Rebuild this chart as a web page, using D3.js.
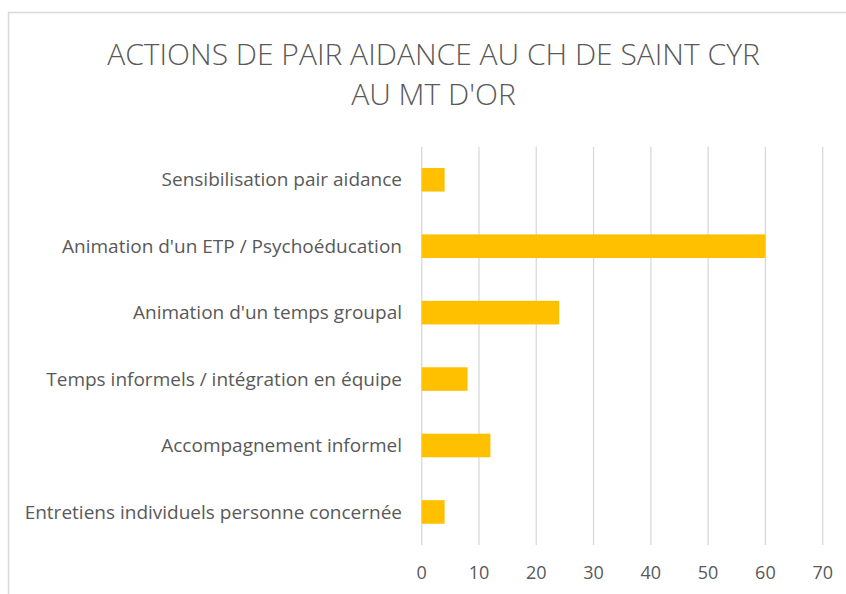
<!DOCTYPE html>
<html>
<head>
<meta charset="utf-8">
<script src="https://d3js.org/d3.v7.min.js"></script>
<style>
  body { margin: 0; background: #fff; }
  text { font-family: "Open Sans", Lato, sans-serif; fill: #595959; }
</style>
</head>
<body>
<div id="chart-area"></div>
<script>
// data
var categories = [
  "Sensibilisation pair aidance",
  "Animation d'un ETP / Psychoéducation",
  "Animation d'un temps groupal ",
  "Temps informels / intégration en équipe",
  "Accompagnement informel",
  "Entretiens individuels personne concernée"
];
var values = [4, 60, 24, 8, 12, 4];
var xTicks = [0, 10, 20, 30, 40, 50, 60, 70];
var titleLines = ["ACTIONS DE PAIR AIDANCE AU CH DE SAINT CYR", "AU MT D'OR"];

var data = categories.map(function(c, i) {
  return { name: c, value: values[i] };
});

var svg = d3.select("#chart-area").append("svg")
  .attr("width", 846)
  .attr("height", 594);

// chart frame (cropped on the right and bottom)
svg.append("rect")
  .attr("x", 8.5)
  .attr("y", 12.5)
  .attr("width", 900)
  .attr("height", 700)
  .attr("fill", "#fff")
  .attr("stroke", "#d9d9d9")
  .attr("stroke-width", 1.5);

// title
svg.selectAll(".title").data(titleLines).enter()
  .append("text")
    .attr("class", "title")
    .attr("x", 433.5)
    .attr("y", function(d, i) { return 65 + i * 40; })
    .attr("text-anchor", "middle")
    .style("font-size", "30px")
    .style("font-weight", 300)
    .text(function(d) { return d; });

var x = d3.scaleLinear()
  .domain([0, 70])
  .range([421.7, 822.7]);

var y = d3.scaleBand()
  .domain(categories)
  .range([146.7, 545])
  .paddingInner(0.645)
  .paddingOuter(0.32);

// gridlines
svg.selectAll(".grid").data(xTicks).enter()
  .append("line")
    .attr("x1", function(d) { return x(d); })
    .attr("x2", function(d) { return x(d); })
    .attr("y1", 146.7)
    .attr("y2", 545)
    .attr("stroke", "#d9d9d9")
    .attr("stroke-width", 1.3);

// bars
svg.selectAll(".bar").data(data).enter()
  .append("rect")
    .attr("x", x(0))
    .attr("y", function(d) { return y(d.name); })
    .attr("width", function(d) { return x(d.value) - x(0); })
    .attr("height", y.bandwidth())
    .attr("fill", "#ffc000");

// category labels
svg.selectAll(".cat").data(data).enter()
  .append("text")
    .attr("x", 402)
    .attr("y", function(d) { return y(d.name) + y.bandwidth() / 2; })
    .attr("dy", "0.35em")
    .attr("text-anchor", "end")
    .style("font-size", "19px")
    .text(function(d) { return d.name; });

// x tick labels
svg.selectAll(".tick").data(xTicks).enter()
  .append("text")
    .attr("x", function(d) { return x(d); })
    .attr("y", 573)
    .attr("dy", "0.35em")
    .attr("text-anchor", "middle")
    .style("font-size", "18px")
    .text(function(d) { return d; });
</script>
</body>
</html>
